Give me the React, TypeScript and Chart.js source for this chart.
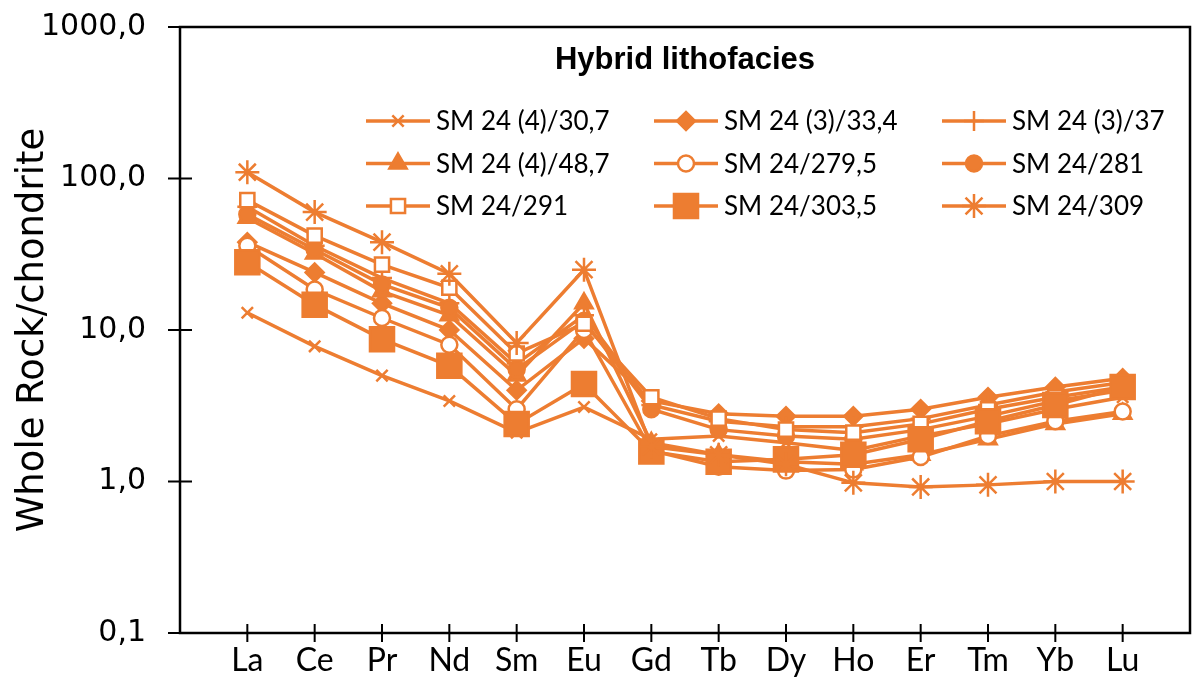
import React, { useEffect, useRef } from 'react';
import { Chart, registerables } from 'chart.js';
import { drawPoint } from 'chart.js/helpers';

Chart.register(...registerables);

const categories = ['La', 'Ce', 'Pr', 'Nd', 'Sm', 'Eu', 'Gd', 'Tb', 'Dy', 'Ho', 'Er', 'Tm', 'Yb', 'Lu'];
const yTickValues = [0.1, 1, 10, 100, 1000];
const chartTitle = 'Hybrid lithofacies';
const yAxisTitle = 'Whole Rock/chondrite';

const seriesLabels = [
  'SM 24 (4)/30,7', 'SM 24 (3)/33,4', 'SM 24 (3)/37',
  'SM 24 (4)/48,7', 'SM 24/279,5', 'SM 24/281',
  'SM 24/291', 'SM 24/303,5', 'SM 24/309',
];

const sm24_4_30_7 = [13, 7.8, 5.0, 3.4, 2.1, 3.1, 1.9, 2.0, 1.8, 1.6, 2.0, 2.4, 3.0, 3.6];
const sm24_3_33_4 = [38, 24, 15, 10, 4.0, 8.8, 3.4, 2.8, 2.7, 2.7, 3.0, 3.6, 4.2, 4.8];
const sm24_3_37 = [65, 36, 22, 15, 6.0, 12.5, 3.2, 2.5, 2.3, 2.3, 2.6, 3.2, 3.9, 4.5];
const sm24_4_48_7 = [55, 32, 18, 12.5, 5.0, 15, 1.8, 1.5, 1.35, 1.3, 1.5, 1.9, 2.4, 2.8];
const sm24_279_5 = [36, 18.5, 12, 8, 3.0, 10, 1.6, 1.25, 1.18, 1.2, 1.45, 2.0, 2.5, 2.9];
const sm24_281 = [58, 34, 20, 14, 5.5, 11.5, 3.0, 2.2, 2.0, 1.9, 2.2, 2.7, 3.4, 4.0];
const sm24_291 = [72, 42, 27, 19, 7.0, 11, 3.6, 2.6, 2.2, 2.1, 2.4, 3.0, 3.6, 4.2];
const sm24_303_5 = [28, 14.7, 8.7, 5.8, 2.4, 4.4, 1.58, 1.35, 1.4, 1.5, 1.9, 2.5, 3.2, 4.2];
const sm24_309 = [110, 60, 38, 23.5, 8.2, 25, 1.7, 1.5, 1.3, 0.98, 0.92, 0.95, 1.0, 1.0];

const seriesValues = [
  sm24_4_30_7, sm24_3_33_4, sm24_3_37,
  sm24_4_48_7, sm24_279_5, sm24_281,
  sm24_291, sm24_303_5, sm24_309,
];

const ORANGE = '#ED7D31';

const markerStyles = [
  { pointStyle: 'crossRot', radius: 8, filled: false },
  { pointStyle: 'rectRot', radius: 9, filled: true },
  { pointStyle: 'cross', radius: 10, filled: false },
  { pointStyle: 'triangle', radius: 10, filled: true },
  { pointStyle: 'circle', radius: 8, filled: false },
  { pointStyle: 'circle', radius: 8, filled: true },
  { pointStyle: 'rect', radius: 10, filled: false },
  { pointStyle: 'rect', radius: 17, filled: true },
  { pointStyle: 'star', radius: 12, filled: false },
];

const decorPlugin = {
  id: 'decor',
  afterDraw(chart: any) {
    const { ctx, chartArea: ca, scales } = chart;
    ctx.save();
    ctx.strokeStyle = '#000';
    ctx.lineWidth = 2.5;
    ctx.strokeRect(ca.left, ca.top, ca.right - ca.left, ca.bottom - ca.top);
    ctx.lineWidth = 2;
    ctx.beginPath();
    yTickValues.forEach((v) => {
      const y = scales.y.getPixelForValue(v);
      ctx.moveTo(ca.left - 12, y);
      ctx.lineTo(ca.left + 12, y);
    });
    categories.forEach((_, i) => {
      const x = scales.x.getPixelForValue(i + 1);
      ctx.moveTo(x, ca.bottom - 9);
      ctx.lineTo(x, ca.bottom + 9);
    });
    ctx.stroke();

    // title
    ctx.fillStyle = '#000';
    ctx.font = 'bold 31px "Liberation Sans"';
    ctx.textAlign = 'center';
    ctx.textBaseline = 'middle';
    ctx.fillText(chartTitle, (ca.left + ca.right) / 2, ca.top + 33);

    // legend
    ctx.font = '26px Lato';
    ctx.textAlign = 'left';
    chart.data.datasets.forEach((ds: any, i: number) => {
      const col = i % 3;
      const row = Math.floor(i / 3);
      const x0 = ca.left + 186 + col * 288;
      const y = ca.top + 94 + row * 42.5;
      const len = 64;
      ctx.strokeStyle = ORANGE;
      ctx.lineWidth = 3.5;
      ctx.beginPath();
      ctx.moveTo(x0, y);
      ctx.lineTo(x0 + len, y);
      ctx.stroke();
      const m = markerStyles[i];
      ctx.fillStyle = m.filled ? ORANGE : '#fff';
      ctx.strokeStyle = ORANGE;
      ctx.lineWidth = 2.5;
      drawPoint(ctx, { pointStyle: m.pointStyle, radius: m.radius, rotation: 0, borderWidth: 2.5 } as any, x0 + len / 2, y);
      ctx.fillStyle = '#000';
      ctx.fillText(ds.label, x0 + len + 6, y + 1);
    });
    ctx.restore();
  },
};

export default function App() {
  const ref = useRef<HTMLCanvasElement>(null);
  useEffect(() => {
    if (!ref.current) return;
    const datasets = seriesValues.map((vals, i) => {
      const m = markerStyles[i];
      return {
        label: seriesLabels[i],
        data: vals.map((v, j) => ({ x: j + 1, y: v })),
        borderColor: ORANGE,
        borderWidth: 3.5,
        pointStyle: m.pointStyle,
        pointRadius: m.radius,
        pointBackgroundColor: m.filled ? ORANGE : '#fff',
        pointBorderColor: ORANGE,
        pointBorderWidth: 2.5,
        fill: false,
        tension: 0,
        order: seriesValues.length - 1 - i,
      };
    });
    const chart = new Chart(ref.current, {
      type: 'line',
      data: { datasets },
      options: {
        animation: false,
        responsive: false,
        events: [],
        layout: { autoPadding: false, padding: { left: 0, top: 27, right: 2, bottom: 0 } },
        plugins: { legend: { display: false }, tooltip: { enabled: false }, title: { display: false } },
        scales: {
          x: {
            type: 'linear',
            min: 0,
            max: 15,
            grid: { display: false, drawTicks: false },
            border: { display: false },
            afterBuildTicks: (s: any) => {
              s.ticks = categories.map((_, i) => ({ value: i + 1 }));
            },
            afterFit: (s: any) => {
              s.height = 56;
              s.paddingLeft = 0;
              s.paddingRight = 0;
            },
            ticks: {
              autoSkip: false,
              maxRotation: 0,
              padding: 8,
              color: '#000',
              font: { family: 'Lato', size: 32 },
              callback: (v: any) => categories[Number(v) - 1] ?? '',
            },
          },
          y: {
            type: 'logarithmic',
            min: 0.1,
            max: 1000,
            grid: { display: false, drawTicks: false },
            border: { display: false },
            afterBuildTicks: (s: any) => {
              s.ticks = yTickValues.map((v) => ({ value: v }));
            },
            afterFit: (s: any) => {
              s.width = 180;
              s.paddingTop = 0;
              s.paddingBottom = 0;
            },
            ticks: {
              padding: 34,
              color: '#000',
              font: { family: 'DejaVu Sans', size: 30 },
              callback: (v: any) => Number(v).toFixed(1).replace('.', ','),
            },
            title: {
              display: true,
              text: yAxisTitle,
              color: '#000',
              font: { family: 'DejaVu Sans', size: 37, weight: 'normal' },
              padding: { top: 11, bottom: 0 },
            },
          },
        },
      },
      plugins: [decorPlugin],
    } as any);
    let alive = true;
    const fonts = (document as any).fonts;
    if (fonts) {
      Promise.all([
        fonts.load('26px Lato'),
        fonts.load('32px Lato'),
        fonts.load('30px "DejaVu Sans"'),
        fonts.load('bold 31px "Liberation Sans"'),
      ]).then(() => {
        if (alive) chart.update();
      }).catch(() => {});
    }
    return () => {
      alive = false;
      chart.destroy();
    };
  }, []);
  return (
    <div style={{ position: 'absolute', left: 0, top: 0, width: 1192, height: 689, background: '#fff' }}>
      <canvas ref={ref} width={1192} height={689} />
    </div>
  );
}
